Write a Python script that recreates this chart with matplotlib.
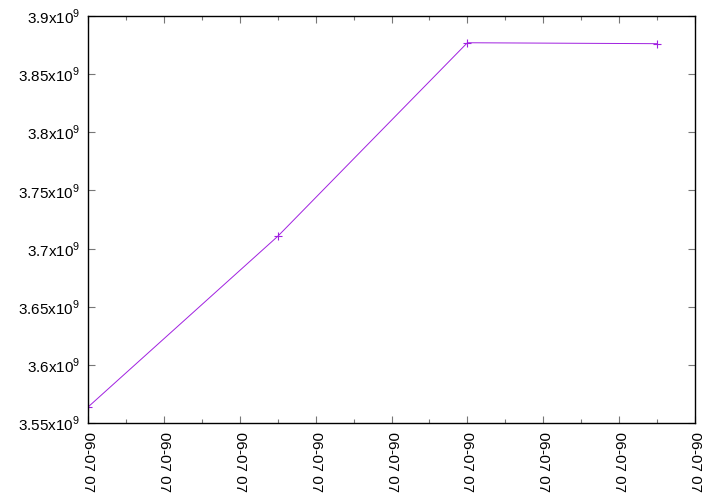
import datetime as dt
import matplotlib
matplotlib.use("Agg")
import matplotlib.pyplot as plt
import matplotlib.dates as mdates
import matplotlib.ticker as mticker

plt.rcParams["font.family"] = ["Liberation Sans", "DejaVu Sans"]
plt.rcParams["mathtext.fontset"] = "custom"
plt.rcParams["mathtext.rm"] = "Liberation Sans"

# data
times = ["2023-06-07 07:00", "2023-06-07 07:05", "2023-06-07 07:10", "2023-06-07 07:15"]
values = [3.5637e9, 3.7105e9, 3.8770e9, 3.8762e9]

x = [dt.datetime.strptime(t, "%Y-%m-%d %H:%M") for t in times]

fig = plt.figure(figsize=(7.2, 5.04), dpi=100)
ax = fig.add_axes([88 / 720, 1 - 423 / 504, (695 - 88) / 720, (423 - 16) / 504])

ax.plot(x, values, color="#a020e0", linewidth=0.7, marker="+", markersize=5.5,
        markeredgewidth=0.8)

ax.set_xlim(dt.datetime(2023, 6, 7, 7, 0), dt.datetime(2023, 6, 7, 7, 16))
ax.set_ylim(3.55e9, 3.9e9)

ax.xaxis.set_major_locator(mdates.MinuteLocator(byminute=range(0, 60, 2)))
ax.xaxis.set_minor_locator(mdates.MinuteLocator(byminute=range(1, 60, 2)))
ax.xaxis.set_major_formatter(mdates.DateFormatter("%m-%d %H"))

ax.yaxis.set_major_locator(mticker.MultipleLocator(0.05e9))


def yfmt(v, pos):
    s = f"{v / 1e9:.2f}".rstrip("0").rstrip(".")
    return s + r"x10$^{9}$"


ax.yaxis.set_major_formatter(mticker.FuncFormatter(yfmt))

ax.tick_params(which="both", direction="in", top=True, right=True, color="#777777")
ax.tick_params(which="major", length=5, width=0.8)
ax.tick_params(which="minor", length=3, width=0.8)
ax.tick_params(axis="y", labelsize=11, pad=5.5)
ax.tick_params(axis="x", labelsize=11, pad=6.5)

for lbl in ax.get_xticklabels():
    lbl.set_rotation(270)
    lbl.set_ha("center")
    lbl.set_va("top")

for sp in ax.spines.values():
    sp.set_linewidth(1.0)
    sp.set_color("black")

fig.savefig("out.png", dpi=100)
